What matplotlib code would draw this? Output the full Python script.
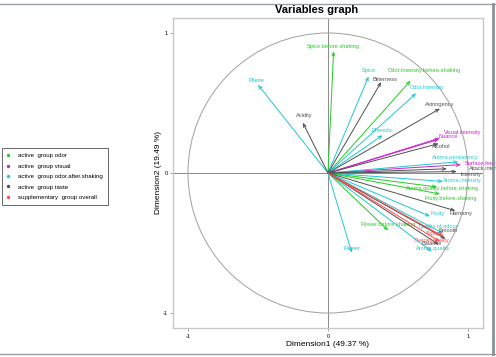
import numpy as np
import matplotlib
matplotlib.use("Agg")
import matplotlib.pyplot as plt
from matplotlib.lines import Line2D
from matplotlib.patches import Circle
from matplotlib.transforms import Bbox, TransformedBbox

plt.rcParams["font.family"] = ["Liberation Sans", "DejaVu Sans"]

# groups: name, colour
groups = ["odor", "visual", "odor.after.shaking", "taste", "overall"]
group_colors = ["#22cc22", "#cc22cc", "#1ec8d2", "#505050", "#ff4a4a"]
legend_labels = ["active  group odor", "active  group visual",
                 "active  group odor.after.shaking", "active  group taste",
                 "supplementary  group overall"]

# variables: name, group, coordinates (dim1, dim2), label position
var_names = [
    "Spice.before.shaking", "Odor.Intensity.before.shaking",
    "Aroma.quality.before.shaking", "Fruity.before.shaking", "Flower.before.shaking",
    "Visual.intensity", "Nuance", "Surface.feeling",
    "Spice", "Odor.Intensity", "Plante", "Phenolic", "Aroma.persistency",
    "Aroma.intensity", "Fruity", "Quality.of.odour", "Aroma.quality", "Flower",
    "Bitterness", "Acidity", "Astringency", "Alcohol", "Attack.intensity",
    "Intensity", "Harmony", "Smooth", "Balance",
    "Typical", "Overall.quality",
]
var_group = [0, 0, 0, 0, 0,
             1, 1, 1,
             2, 2, 2, 2, 2, 2, 2, 2, 2, 2,
             3, 3, 3, 3, 3, 3, 3, 3, 3,
             4, 4]
dim1 = [0.04, 0.59, 0.78, 0.80, 0.43,
        0.80, 0.79, 0.95,
        0.29, 0.63, -0.50, 0.39, 0.93, 0.82, 0.73, 0.82, 0.74, 0.17,
        0.38, -0.18, 0.80, 0.79, 0.85, 0.92, 0.91, 0.84, 0.79,
        0.82, 0.80]
dim2 = [0.87, 0.66, -0.10, -0.15, -0.41,
        0.25, 0.24, 0.06,
        0.69, 0.57, 0.63, 0.27, 0.08, -0.06, -0.31, -0.43, -0.56, -0.57,
        0.65, 0.36, 0.46, 0.21, 0.03, 0.01, -0.27, -0.47, -0.51,
        -0.45, -0.49]
label_x = [0.04, 0.69, 0.82, 0.88, 0.43,
           0.96, 0.86, 1.11,
           0.29, 0.71, -0.51, 0.39, 0.91, 0.96, 0.78, 0.79, 0.75, 0.17,
           0.41, -0.17, 0.80, 0.81, 1.14, 1.02, 0.95, 0.86, 0.74,
           0.76, 0.74]
label_y = [0.90, 0.73, -0.11, -0.18, -0.37,
           0.29, 0.26, 0.07,
           0.73, 0.61, 0.66, 0.30, 0.11, -0.05, -0.29, -0.38, -0.54, -0.54,
           0.67, 0.41, 0.49, 0.19, 0.03, -0.01, -0.29, -0.41, -0.50,
           -0.43, -0.48]

fig = plt.figure(figsize=(4.96, 3.57), dpi=100)
ax = fig.add_axes([173 / 496, 29 / 357, 310 / 496, 310 / 357])
lim = 1.107
ax.set_xlim(-lim, lim)
ax.set_ylim(-lim, lim)

ax.axhline(0, color="#8a8a8a", lw=0.7, zorder=1)
ax.axvline(0, color="#8a8a8a", lw=0.7, zorder=1)
ax.add_patch(Circle((0, 0), 1, fill=False, ec="#a0a0a0", lw=0.7, zorder=1))

clip = TransformedBbox(Bbox([[0, 0], [491 / 496, 1]]), fig.transFigure)
for i, name in enumerate(var_names):
    c = group_colors[var_group[i]]
    ax.annotate("", xy=(dim1[i], dim2[i]), xytext=(0, 0),
                arrowprops=dict(arrowstyle="->,head_length=0.25,head_width=0.1",
                                color=c, lw=0.7, shrinkA=0, shrinkB=0))
    t = ax.text(label_x[i], label_y[i], name, color=c, fontsize=4.1,
                ha="center", va="center", clip_on=False)
    t.set_clip_box(clip)

for s in ax.spines.values():
    s.set_color("#c8c8c8")
    s.set_linewidth(1.0)
ax.set_xticks([-1, 0, 1])
ax.set_yticks([-1, 0, 1])
ax.set_xticklabels(["-1", "0", "1"])
ax.set_yticklabels(["-1", "0", "1"])
ax.tick_params(labelsize=4, length=2, width=0.6, color="#909090", pad=2)
ax.set_xlabel("Dimension1 (49.37 %)", fontsize=6, labelpad=2)
ax.set_ylabel("Dimension2 (19.49 %)", fontsize=6, labelpad=0)
fig.text(317 / 496, 1 - 10 / 357, "Variables graph", fontsize=8,
         fontweight="bold", ha="center", va="center")

# window frame
fig.add_artist(Line2D([0, 1], [1 - 3.5 / 357] * 2, color="#9aa0a8", lw=1.0))
fig.add_artist(Line2D([0, 1], [1 - 354 / 357] * 2, color="#9aa0a8", lw=1.0))
fig.add_artist(Line2D([493 / 496] * 2, [1 - 354 / 357, 1 - 3.5 / 357],
                      color="#8a9098", lw=2.0))

handles = [Line2D([], [], ls="none", marker="o", ms=1.4, color=c, mec=c)
           for c in group_colors]
leg = fig.legend(handles, legend_labels, loc="upper left",
                 bbox_to_anchor=(2 / 496, 1 - 148 / 357), fontsize=4.4,
                 frameon=True, fancybox=False, handlelength=0.5,
                 handletextpad=1.3, labelspacing=0.85, borderpad=0.8,
                 borderaxespad=0, edgecolor="#404040")
leg.get_frame().set_linewidth(0.7)

fig.savefig("out.png", dpi=100)
